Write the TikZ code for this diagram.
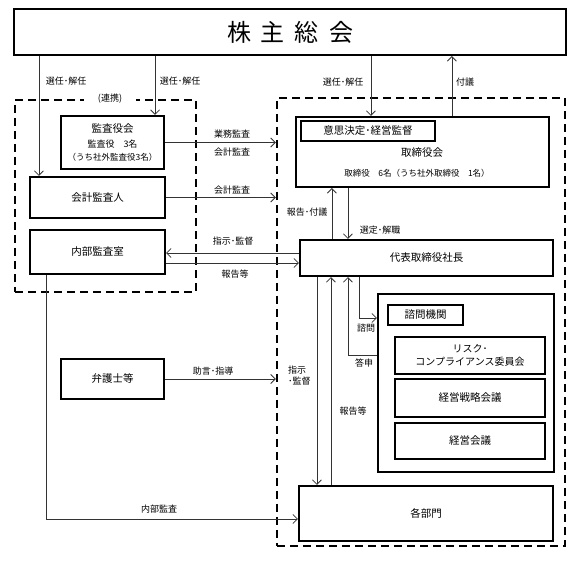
\documentclass[tikz,border=0pt]{standalone}
\usepackage{fontspec}
\setmainfont{Noto Sans CJK JP}
\usetikzlibrary{arrows.meta}
\begin{document}
\begin{tikzpicture}[x=1pt,y=-1pt,
  box/.style={draw,line width=2.2pt,inner sep=1pt,align=center,font=\fontsize{10.5}{13}\selectfont},
  dbox/.style={draw,line width=2.4pt,dash pattern=on 8pt off 5pt,inner sep=0pt},
  lab/.style={font=\fontsize{9}{11}\selectfont,inner sep=1pt},
  con/.style={line width=0.8pt,draw=black!80},
  arr/.style={con,-{Straight Barb[length=4.5pt,width=9pt,line width=0.8pt]}}]
\useasboundingbox (0,0) rectangle (587,561);
% dashed groups
\node[dbox,minimum width=181pt,minimum height=192pt] (ldash) at (105.5,196) {};
\node[dbox,minimum width=288pt,minimum height=448pt] (rdash) at (421,322) {};
\node[lab,fill=white,inner xsep=14pt] (renkei) at (110,99) {(連携)};
% boxes
\node[box,minimum width=552pt,minimum height=46pt,font=\fontsize{24}{28}\selectfont] (kabu) at (290,32) {株\hspace{10pt}主\hspace{10pt}総\hspace{10pt}会};
\node[box,minimum width=103pt,minimum height=53pt] (kansa) at (112.5,142.5) {監査役会\\[2pt]{\fontsize{9}{11}\selectfont 監査役　3名}\\{\fontsize{8.5}{11}\selectfont （うち社外監査役3名）}};
\node[box,minimum width=135pt,minimum height=41pt] (kaikei) at (97.5,197.5) {会計監査人};
\node[box,minimum width=135pt,minimum height=44pt] (naibu) at (97.5,252) {内部監査室};
\node[box,minimum width=103pt,minimum height=40pt] (bengo) at (112.5,379) {弁護士等};
\node[box,minimum width=253pt,minimum height=70pt] (tori) at (422.5,152) {};
\node[box,minimum width=134pt,minimum height=20pt] (ishi) at (368,131) {意思決定･経営監督};
\node[font=\fontsize{10.5}{13}\selectfont,inner sep=1pt] (toritxt) at (422,153) {取締役会};
\node[font=\fontsize{8.5}{11}\selectfont,inner sep=1pt] (torimem) at (417,173) {取締役　6名（うち社外取締役　1名）};
\node[box,minimum width=253pt,minimum height=36pt] (shacho) at (426.5,258) {代表取締役社長};
\node[box,minimum width=176pt,minimum height=178pt] (shimon) at (466,383) {};
\node[box,minimum width=75pt,minimum height=20pt] (shimonlab) at (425.5,315) {諮問機関};
\node[box,minimum width=150pt,minimum height=37pt,font=\fontsize{10}{13}\selectfont] (risk) at (470,355.5) {リスク･\\コンプライアンス委員会};
\node[box,minimum width=150pt,minimum height=38pt] (senryaku) at (470,398) {経営戦略会議};
\node[box,minimum width=150pt,minimum height=36pt] (keiei) at (470,441) {経営会議};
\node[box,minimum width=254pt,minimum height=55pt] (bumon) at (426,513.5) {各部門};
% shareholders connectors
\coordinate (p1) at ([xshift=10pt]kaikei.north west);
\draw[arr] (kabu.south -| p1) -- (p1);
\coordinate (p2) at ([xshift=-10pt]kansa.north east);
\draw[arr] (kabu.south -| p2) -- (p2);
\coordinate (p3) at ([xshift=76pt]tori.north west);
\draw[arr] (kabu.south -| p3) -- (p3);
\coordinate (p4) at ([xshift=157pt]tori.north west);
\draw[arr] (p4) -- (kabu.south -| p4);
\node[lab] (l1) at (66,81) {選任･解任};
\node[lab] (l2) at (180,81) {選任･解任};
\node[lab] (l3) at (343,82) {選任･解任};
\node[lab] (l4) at (465,82) {付議};
% audit connectors
\draw[arr] (kansa.east) -- (rdash.west |- kansa.east);
\draw[arr] (kaikei.east) -- (rdash.west |- kaikei.east);
\coordinate (q1) at ([yshift=5pt]shacho.west);
\coordinate (q2) at ([yshift=-5pt]shacho.west);
\draw[arr] (q1) -- (naibu.east |- q1);
\draw[arr] (naibu.east |- q2) -- (q2);
\draw[arr] (bengo.east) -- (rdash.west |- bengo.east);
\node[lab] (l5) at (232,134) {業務監査};
\node[lab] (l6) at (232,152) {会計監査};
\node[lab] (l7) at (232,190) {会計監査};
\node[lab] (l8) at (233,241) {指示･監督};
\node[lab] (l9) at (235,274) {報告等};
\node[lab] (l10) at (213,371) {助言･指導};
% internal audit to departments
\coordinate (r1) at ([xshift=17pt]naibu.south west);
\coordinate (r2) at ([yshift=-5.5pt]bumon.west);
\draw[arr] (r1) -- (r1 |- r2) -- (r2);
\node[lab] (l11) at (159,509) {内部監査};
% board <-> president
\coordinate (s1) at ([xshift=33pt]shacho.north west);
\draw[arr] (s1) -- (tori.south -| s1);
\coordinate (s2) at ([xshift=49pt]shacho.north west);
\draw[arr] (tori.south -| s2) -- (s2);
\node[lab] (l12) at (307,212) {報告･付議};
\node[lab] (l13) at (380,230) {選定･解職};
% president <-> departments / advisory
\coordinate (b1) at ([xshift=18pt]shacho.south west);
\draw[arr] (b1) -- (bumon.north -| b1);
\coordinate (b2) at ([xshift=32pt]shacho.south west);
\draw[arr] (bumon.north -| b2) -- (b2);
\coordinate (b3) at ([xshift=49pt]shacho.south west);
\coordinate (b4) at ([yshift=28pt]shimon.west);
\draw[arr] (b4) -- (b4 -| b3) -- (b3);
\coordinate (b5) at ([xshift=60pt]shacho.south west);
\coordinate (b6) at ([yshift=65pt]shimon.west);
\draw[arr] (b5) -- (b5 |- b6) -- (b6);
\node[lab,align=left,anchor=west] (l14) at (287,376) {指示\\･監督};
\node[lab] (l15) at (353,411) {報告等};
\node[lab] (l16) at (364,363) {答申};
\node[lab] (l17) at (366,328) {諮問};
\end{tikzpicture}
\end{document}
